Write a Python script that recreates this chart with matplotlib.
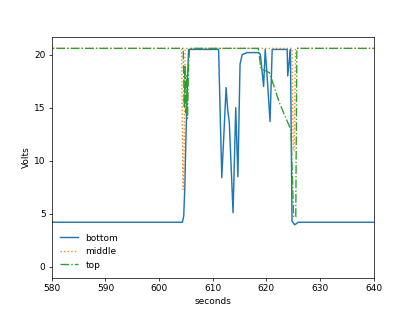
import matplotlib
matplotlib.use("Agg")
import matplotlib.pyplot as plt

# bottom sensor
t_bottom = [570, 604.35, 604.6, 604.8, 605.0, 605.3, 605.5, 611.1, 611.7, 612.5,
            612.8, 613.1, 613.8, 614.3, 614.7, 615.1, 615.5, 616.4, 618.6, 618.9,
            619.5, 619.8, 620.1, 620.7, 621.1, 623.9, 624.0, 624.4, 624.5, 624.8,
            625.3, 626.0, 650]
v_bottom = [4.2, 4.2, 4.8, 7.5, 12.0, 17.5, 20.5, 20.5, 8.4, 16.9,
            14.8, 13.6, 5.1, 15.0, 8.5, 19.1, 20.0, 20.2, 20.2, 20.0,
            17.0, 20.5, 18.4, 13.7, 20.5, 20.5, 18.0, 20.0, 20.5, 4.3,
            3.96, 4.2, 4.2]

# middle sensor
t_middle = [570, 604.2, 604.45, 604.6, 604.85, 624.8, 625.0, 625.2, 625.45, 650]
v_middle = [20.6, 20.6, 7.3, 7.3, 20.6, 20.6, 11.0, 11.0, 20.6, 20.6]

# top sensor
t_top = [570, 604.5, 604.7, 604.85, 605.0, 605.15, 605.3, 605.5, 605.7, 618.5,
         619.0, 620.6, 622.5, 624.6, 625.1, 625.5, 625.7, 650]
v_top = [20.6, 20.6, 15.0, 19.0, 14.5, 18.0, 14.0, 19.0, 20.6, 20.6,
         18.7, 18.3, 15.4, 12.9, 4.7, 4.7, 20.6, 20.6]

fig = plt.figure(figsize=(415 / 65, 312 / 65), dpi=65)
ax = fig.add_subplot(111)
ax.plot(t_bottom, v_bottom, "-", color="#1f77b4", lw=1.6, label="bottom")
ax.plot(t_middle, v_middle, ":", color="#ff7f0e", lw=1.5, label="middle")
ax.plot(t_top, v_top, "-.", color="#2ca02c", lw=1.5, label="top")

ax.set_xlim(580, 640)
ax.set_ylim(-1.03, 21.63)
ax.set_xlabel("seconds")
ax.set_ylabel("Volts")
ax.legend(loc="lower left", frameon=False)

fig.savefig("out.png", dpi=65)
